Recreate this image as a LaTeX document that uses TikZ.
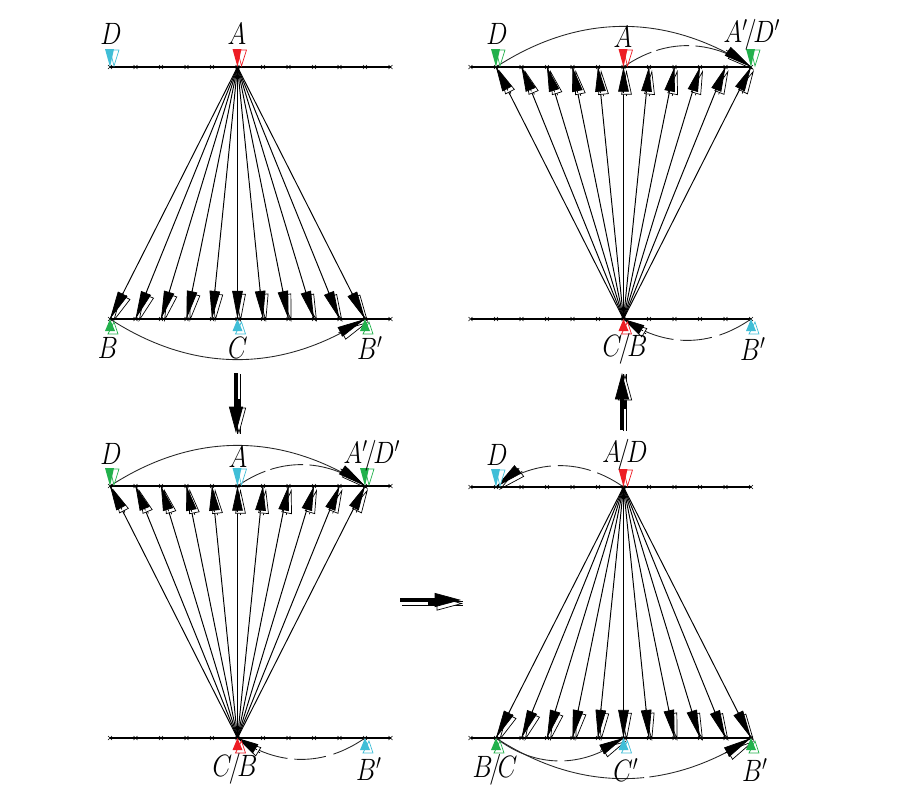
\documentclass[tikz,border=0pt]{standalone}
\usepackage{xcolor}
\usepackage{amsmath}
\usetikzlibrary{calc,arrows.meta}

\definecolor{flagred}{RGB}{237,28,36}
\definecolor{flaggreen}{RGB}{34,177,76}
\definecolor{flagcyan}{RGB}{64,190,215}

\tikzset{
  rail/.style={line width=1.05pt,black},
  tickx/.style={line width=0.35pt,black},
  ray/.style={line width=0.55pt,black},
  link/.style={line width=0.5pt,black!85},
  lab/.style={font=\fontsize{14.4}{16}\selectfont,inner sep=0pt,yscale=1.22,transform shape},
}
\newcommand{\sls}{\mkern-2.5mu/\mkern-2.5mu}

% row of ticks on a rail, names #1-0 ... #1-11
\newcommand{\railrow}[3]{
  \foreach \i in {0,...,11} {
    \coordinate (#1-\i) at ({#2+25.5*\i},#3);
    \draw[tickx] ([shift={(-2,-2)}]#1-\i) -- ([shift={(2,2)}]#1-\i);
    \draw[tickx] ([shift={(-2,2)}]#1-\i) -- ([shift={(2,-2)}]#1-\i);
  }
  \draw[rail] (#1-0) -- (#1-11);
}
% head with offset white copy: tip, point it looks back to
\newcommand{\headon}[3][16pt]{
  \coordinate (hb) at ($(#2)!#1+1pt!(#3)$);
  \draw[line width=0.4pt,-{Triangle[length=#1,width=6pt,sep=0pt,open,fill=white]}] ([shift={(3,3)}]hb) -- ([shift={(3,3)}]#2);
  \draw[line width=0.4pt,-{Triangle[length=#1,width=6pt,sep=0pt,fill=black]}] (hb) -- (#2);
}
% #2 apex, #3 row name, #4 ticks
\newcommand{\fanrays}[4][16pt]{
  \foreach \i in {#4} {\draw[ray] (#2) -- (#3-\i);}
  \foreach \i in {#4} {\headon[#1]{#3-\i}{#2}}
}
\newcommand{\flagtop}[2]{
  \draw[#2,fill=white,line width=0.4pt] ([shift={(0,-17)}]#1) -- ([shift={(9,-17)}]#1) -- ([shift={(4,-1)}]#1) -- cycle;
  \fill[#2] ([shift={(-5,-18)}]#1) -- ([shift={(4,-18)}]#1) -- ([shift={(0,0)}]#1) -- cycle;
}
\newcommand{\flagbot}[2]{
  \draw[#2,fill=white,line width=0.4pt] ([shift={(-2,15)}]#1) -- ([shift={(8,15)}]#1) -- ([shift={(4,3)}]#1) -- cycle;
  \fill[#2] ([shift={(-5,12)}]#1) -- ([shift={(5,12)}]#1) -- ([shift={(0,0)}]#1) -- cycle;
}
% the heavy arrows between the panels: from, to, offset of the white copy
\newcommand{\bigarrow}[3]{
  \draw[line width=2.3pt] ([shift={#3}]#1) -- ([shift={#3}]#2);
  \draw[line width=1.5pt,white] ([shift={#3}]#1) -- ([shift={#3}]#2);
  \draw[line width=2.3pt,-{Triangle[length=15pt,width=8pt,sep=0pt,open,fill=white,line width=0.4pt]}] ([shift={#3}]$(#2)!20pt!(#1)$) -- ([shift={#3}]#2);
  \draw[line width=2.3pt,-{Triangle[length=15pt,width=8pt,sep=0pt,fill=black,line width=0.4pt]}] (#1) -- (#2);
}

\begin{document}
\begin{tikzpicture}[x=0.02cm,y=-0.02cm]
\useasboundingbox (0,0) rectangle (900,799);

%%%%% upper left
\railrow{ul}{110}{67}
\railrow{ub}{110}{319}
\fanrays{ul-5}{ub}{0,...,10}
\draw[link] (ub-0) to[out=-33,in=-147] (ub-10);
\coordinate (ulhead) at (340,332);
\headon{ub-10}{ulhead}
\draw[rail] (ub-0) -- (ub-11);
\flagtop{ul-0}{flagcyan}
\flagtop{ul-5}{flagred}
\flagbot{ub-0}{flaggreen}
\flagbot{ub-5}{flagcyan}
\flagbot{ub-10}{flaggreen}
\node[lab] (ulD) at (111,34) {$D$};
\node[lab] (ulA) at (237,34) {$A$};
\node[lab] (ulB) at (108,348) {$B$};
\node[lab] (ulC) at (238,348) {$C$};
\node[lab] (ulBp) at (370,348) {$B'$};

%%%%% lower left
\railrow{ll}{110}{486}
\railrow{lb}{110}{738}
\fanrays[14pt]{lb-5}{ll}{0,...,10}
\draw[link] (ll-0) to[out=33,in=147] (ll-10);
\draw[link,dash pattern=on 18pt off 3pt on 19pt off 3.5pt on 40pt] (ll-5) to[out=35,in=145] (ll-10);
\coordinate (llhead) at (338,467);
\headon{ll-10}{llhead}
\draw[link,dash pattern=on 31pt off 4pt on 18pt off 4.5pt on 50pt] (lb-5) to[out=-35,in=-145] (lb-10);
\coordinate (lbhead) at (259,751);
\headon[12pt]{lb-5}{lbhead}
\draw[rail] (ll-0) -- (ll-11);
\flagtop{ll-0}{flaggreen}
\flagtop{ll-5}{flagcyan}
\flagtop{ll-10}{flaggreen}
\flagbot{lb-5}{flagred}
\flagbot{lb-10}{flagcyan}
\node[lab] (llD) at (111,454) {$D$};
\node[lab] (llA) at (238,457) {$A$};
\node[lab] (llAD) at (372,456) {$A'\sls D'$};
\node[lab] (llCB) at (235,769) {$C\sls B$};
\node[lab] (llBp) at (369,769) {$B'$};

%%%%% upper right
\railrow{ur}{470.5}{67}
\railrow{rb}{470.5}{319}
\fanrays[14pt]{rb-6}{ur}{1,...,11}
\draw[link] (ur-1) to[out=33,in=147] (ur-11);
\draw[link,dash pattern=on 18pt off 3pt on 19pt off 3.5pt on 40pt] (ur-6) to[out=35,in=145] (ur-11);
\coordinate (urhead) at (723,48);
\headon{ur-11}{urhead}
\draw[link,dash pattern=on 31pt off 4pt on 18pt off 4.5pt on 50pt] (rb-6) to[out=-35,in=-145] (rb-11);
\coordinate (rbhead) at (645,332);
\headon[12pt]{rb-6}{rbhead}
\draw[rail] (ur-0) -- (ur-11);
\flagtop{ur-1}{flaggreen}
\flagtop{ur-6}{flagred}
\flagtop{ur-11}{flaggreen}
\flagbot{rb-6}{flagred}
\flagbot{rb-11}{flagcyan}
\node[lab] (urD) at (497,34) {$D$};
\node[lab] (urA) at (623,37) {$A$};
\node[lab] (urAD) at (752,35) {$A'\sls D'$};
\node[lab] (urCB) at (625,349) {$C\sls B$};
\node[lab] (urBp) at (753,349) {$B'$};

%%%%% lower right
\railrow{dr}{470.5}{487}
\railrow{db}{470.5}{738}
\fanrays{dr-6}{db}{1,...,11}
\draw[link,dash pattern=on 17pt off 4pt on 19pt off 4pt on 60pt] (dr-6) to[out=145,in=35] (dr-1);
\coordinate (drhead) at (517,470);
\headon{dr-1}{drhead}
\draw[link,dash pattern=on 89pt off 3pt on 80pt] (db-1) to[out=-33,in=-147] (db-11);
\draw[link,dash pattern=on 38pt off 4pt on 60pt] (db-1) to[out=-38,in=-142] (db-6);
\coordinate (dbhead) at (601,750);
\headon[14pt]{db-6}{dbhead}
\coordinate (dbheadb) at (727,752);
\headon{db-11}{dbheadb}
\draw[rail] (dr-0) -- (dr-11);
\flagtop{dr-1}{flagcyan}
\flagtop{dr-6}{flagred}
\flagbot{db-1}{flaggreen}
\flagbot{db-6}{flagcyan}
\flagbot{db-11}{flaggreen}
\node[lab] (drD) at (497,455) {$D$};
\node[lab] (drAD) at (625,455) {$A\sls D$};
\node[lab] (dbBC) at (495,770) {$B\sls C$};
\node[lab] (dbCp) at (626,770) {$C'$};
\node[lab] (dbBp) at (755,770) {$B'$};

%%%%% arrows between
\coordinate (dnA) at (236,373);
\coordinate (dnB) at (236,433);
\bigarrow{dnA}{dnB}{(3,1)}
\coordinate (rtA) at (400,600);
\coordinate (rtB) at (461,600);
\bigarrow{rtA}{rtB}{(2,3.5)}
\coordinate (upA) at (622,430);
\coordinate (upB) at (622,373);
\bigarrow{upA}{upB}{(3,1)}
\end{tikzpicture}
\end{document}
